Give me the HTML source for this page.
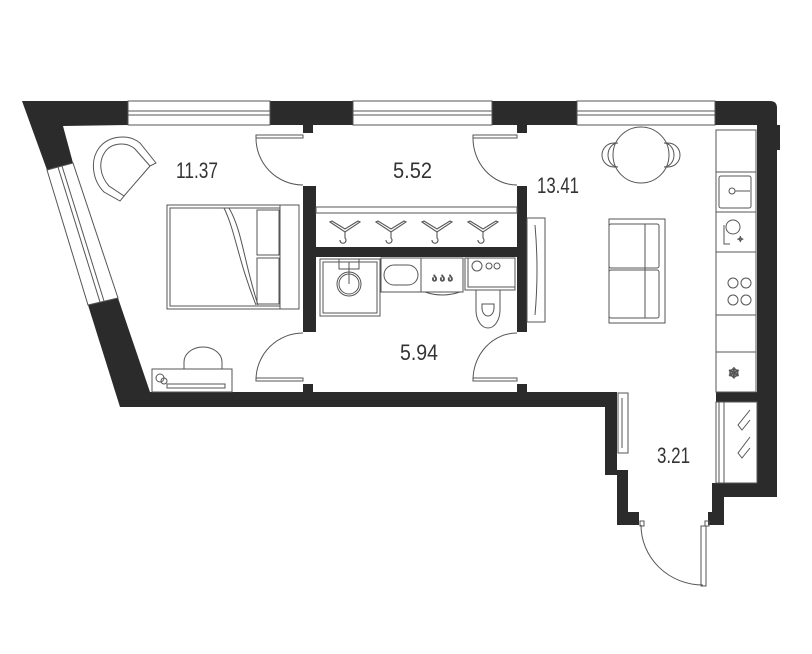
<!DOCTYPE html>
<html><head><meta charset="utf-8"><style>
html,body{margin:0;padding:0;background:#fff;width:812px;height:654px;overflow:hidden}
svg{display:block}
text{font-family:"Liberation Sans Narrow","Liberation Sans",sans-serif;font-size:22px;fill:#333}
</style></head><body>
<svg width="812" height="654" viewBox="0 0 812 654" xmlns="http://www.w3.org/2000/svg">
<g fill="#2b2b2b" stroke="none">
<polygon points="22,101 128,101 128,125 63,126 73,163 47,170"/>
<polygon points="88,305 118,298 150,392 150,407 120,407"/>
<rect x="270" y="101" width="83" height="24"/>
<rect x="303" y="125" width="10" height="8"/>
<rect x="492" y="101" width="85" height="24"/>
<rect x="517" y="125" width="10" height="8"/>
<path d="M715,101 H770 Q777,101 777,108 V125 H780 V150 H777 V497 H757 V125 H715 Z"/>
<rect x="150" y="392" width="467" height="15"/>
<rect x="303" y="384" width="10" height="8"/>
<rect x="517" y="384" width="10" height="8"/>
<polygon points="605,392 617,392 617,470 628,470 628,512 639,512 639,525 617,525 617,475 605,475"/>
<polygon points="712,483 757,483 757,497 724,497 724,525 708,525 708,512 712,512"/>
<rect x="716" y="392" width="41" height="10"/>
<rect x="303" y="186" width="13" height="146"/>
<rect x="517" y="186" width="10" height="146"/>
<rect x="316" y="247" width="201" height="10"/>
</g>
<g fill="none" stroke="#555" stroke-width="1">
<rect x="128" y="101" width="142" height="24"/><line x1="128" y1="111" x2="270" y2="111"/><line x1="128" y1="115" x2="270" y2="115"/>
<rect x="353" y="101" width="139" height="24"/><line x1="353" y1="111" x2="492" y2="111"/><line x1="353" y1="115" x2="492" y2="115"/>
<rect x="577" y="101" width="138" height="24"/><line x1="577" y1="111" x2="715" y2="111"/><line x1="577" y1="115" x2="715" y2="115"/>
<polygon points="47,170 73,163 118,298 88,305"/>
<line x1="58" y1="167" x2="100" y2="302"/><line x1="62" y1="166" x2="104" y2="301"/>
<rect x="256" y="135" width="47" height="3"/><path d="M256,137 A47,47 0 0 0 303,185"/>
<rect x="473" y="135" width="44" height="3"/><path d="M473,137 A44,47 0 0 0 517,185"/>
<rect x="256" y="378" width="47" height="3"/><path d="M256,380 A47,47 0 0 1 303,333"/>
<rect x="473" y="378" width="44" height="3"/><path d="M473,380 A44,47 0 0 1 517,333"/>
<rect x="701" y="526" width="5" height="60"/><path d="M641,525 A62,60 0 0 0 703,585"/>
<rect x="640" y="521" width="4" height="5"/><rect x="705" y="521" width="4" height="5"/>
<!-- armchair: closed U shape -->
<path d="M156,163 L140,143 C128,133 108,136 99,148 C90,160 92,180 104,192 L120,201 L124,196 L109,186 C100,176 98,162 105,152 C111,143 126,141 135,149 L150,166 Z"/>
<path d="M150,166 L124,196"/>
<rect x="167" y="205" width="132" height="104"/>
<rect x="170" y="208" width="110" height="98"/>
<line x1="280" y1="205" x2="280" y2="309"/>
<rect x="257" y="210" width="22" height="45"/><rect x="257" y="258" width="22" height="46"/>
<path d="M224,208 C235,230 238,260 256,305"/><path d="M229,208 C242,230 244,262 258,305"/>
<rect x="152" y="369" width="80" height="23"/>
<rect x="167" y="384" width="58" height="4"/>
<path d="M184,369 V362 A19,15 0 0 1 222,362 V369"/>
<circle cx="160" cy="378" r="4"/><circle cx="164" cy="381" r="3"/>
<rect x="316" y="207" width="201" height="6"/>
<g stroke-width="1.1">
<path d="M330,222 L345,232 L360,222 L358,221 L345,229 L332,221 Z M345,232 V238 A3,3 0 1 1 340,240"/>
<path d="M376,222 L391,232 L406,222 L404,221 L391,229 L378,221 Z M391,232 V238 A3,3 0 1 1 386,240"/>
<path d="M422,222 L437,232 L452,222 L450,221 L437,229 L424,221 Z M437,232 V238 A3,3 0 1 1 432,240"/>
<path d="M468,222 L483,232 L498,222 L496,221 L483,229 L470,221 Z M483,232 V238 A3,3 0 1 1 478,240"/>
</g>
<rect x="320" y="259" width="60" height="57"/><rect x="323" y="262" width="54" height="51"/>
<circle cx="349" cy="284" r="12"/><circle cx="349" cy="284" r="10"/><line x1="349" y1="262" x2="349" y2="284"/><rect x="339" y="259" width="20" height="10"/>
<rect x="381" y="258" width="40" height="34"/><rect x="384" y="265" width="34" height="20" rx="10"/>
<rect x="421" y="258" width="42" height="34"/><path d="M425,292 Q442,298 460,292"/>
<text x="432" y="281" style="font-size:10px">ა ა ა</text>
<rect x="465" y="258" width="50" height="32"/><rect x="468" y="258" width="47" height="29"/>
<circle cx="477" cy="266" r="5"/><circle cx="489" cy="266" r="3"/><circle cx="497" cy="266" r="3"/>
<path d="M476,290 H500 V310 A12,18 0 0 1 476,310 Z"/><path d="M482,308 A6,8 0 0 0 494,308 V304 H482 Z"/>
<rect x="527" y="218" width="18" height="104"/><path d="M535,225 Q539,270 535,315"/>
<circle cx="641" cy="155" r="28"/>
<path d="M614,143 A12,12 0 0 0 614,167 L618,167 A10,12 0 0 1 618,143 Z"/>
<path d="M668,143 A12,12 0 0 1 668,167 L664,167 A10,12 0 0 0 664,143 Z"/>
<rect x="609" y="219" width="56" height="104"/>
<rect x="609" y="224" width="50" height="44" rx="2"/><rect x="609" y="270" width="50" height="48" rx="2"/>
<line x1="645" y1="224" x2="645" y2="318"/>
<rect x="716" y="130" width="40" height="262"/>
<line x1="716" y1="172" x2="756" y2="172"/><line x1="716" y1="212" x2="756" y2="212"/>
<line x1="716" y1="252" x2="756" y2="252"/><line x1="716" y1="315" x2="756" y2="315"/>
<line x1="716" y1="352" x2="756" y2="352"/>
<rect x="719" y="176" width="32" height="32" rx="2"/><circle cx="732" cy="191" r="3"/><line x1="735" y1="191" x2="750" y2="191"/>
<circle cx="733" cy="227" r="7"/><path d="M724,225 V244 H730"/><text x="737" y="242" style="font-size:8px">✧</text>
<circle cx="733" cy="283" r="5"/><circle cx="746" cy="283" r="5"/><circle cx="733" cy="300" r="5"/><circle cx="746" cy="300" r="5"/>
<text x="728" y="378" style="font-size:14px;fill:#555">❄</text>
<rect x="618" y="393" width="10" height="60"/><line x1="622" y1="398" x2="622" y2="448"/>
<rect x="716" y="402" width="41" height="81"/><rect x="719" y="402" width="5" height="81"/>
<path d="M750,410 L738,425 L742,430 L750,420 M750,437 L738,453 L742,458 L750,448"/>
</g>
<text x="176" y="178" textLength="42" lengthAdjust="spacingAndGlyphs">11.37</text>
<text x="393" y="178" textLength="39" lengthAdjust="spacingAndGlyphs">5.52</text>
<text x="537" y="193" textLength="42" lengthAdjust="spacingAndGlyphs">13.41</text>
<text x="400" y="360" textLength="38" lengthAdjust="spacingAndGlyphs">5.94</text>
<text x="657" y="463" textLength="33" lengthAdjust="spacingAndGlyphs">3.21</text>
</svg>
</body></html>
